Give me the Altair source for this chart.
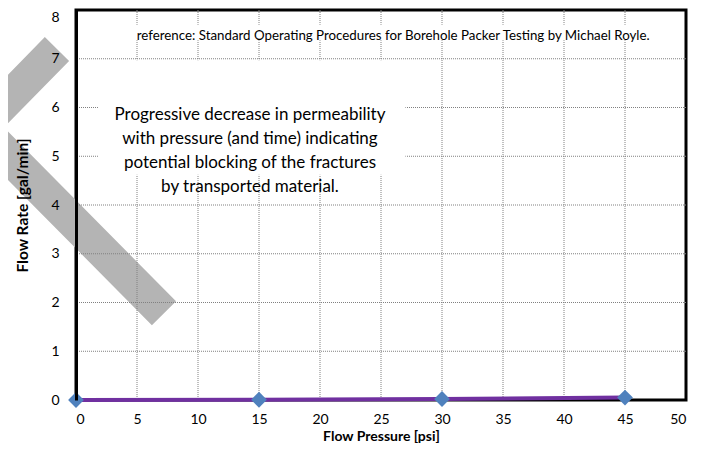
import altair as alt
import pandas as pd

# data series
pressure = [0, 15, 30, 45]
flow_rate = [0.0, 0.005, 0.02, 0.05]

x_ticks = [0, 5, 10, 15, 20, 25, 30, 35, 40, 45, 50]
y_ticks = [0, 1, 2, 3, 4, 5, 6, 7, 8]
grid_x = [5, 10, 15, 20, 25, 30, 35, 40, 45]
grid_y = [1, 2, 3, 4, 5, 6, 7]

# decorative "<" chevron (in data units)
chevron_x = [-1.56, -7.87, 7.21]
chevron_y = [7.2, 5.59, 1.78]

ref_text = "reference: Standard Operating Procedures for Borehole Packer Testing by Michael Royle."
main_text = [
    "Progressive decrease in permeability",
    "with pressure (and time) indicating",
    "potential blocking of the fractures",
    "by transported material.",
]

FONT = "Lato"

df = pd.DataFrame({"x": pressure, "y": flow_rate})
chev = pd.DataFrame({"x": chevron_x, "y": chevron_y, "o": list(range(len(chevron_x)))})
gx = pd.DataFrame({"x": grid_x})
gy = pd.DataFrame({"y": grid_y})

xs = alt.Scale(domain=[0, 50], nice=False, zero=False)
ys = alt.Scale(domain=[0, 8], nice=False, zero=False)

x_axis = alt.Axis(values=x_ticks, title="Flow Pressure [psi]", grid=False, ticks=False, domain=False,
                  labelPadding=12, titlePadding=3, titleFontSize=14)
y_axis = alt.Axis(values=y_ticks, title="Flow Rate [gal/min]", grid=False, ticks=False, domain=True,
                  domainColor="black", domainWidth=3, labelPadding=17, titlePadding=20, zindex=1,
                  labelOffset=alt.expr("datum.value == 8 ? 7 : 0"))

X = lambda f: alt.X(f, scale=xs, axis=x_axis)
Y = lambda f: alt.Y(f, scale=ys, axis=y_axis)

chevron = alt.Chart(chev).mark_line(
    color="#b4b4b4", strokeWidth=34, strokeCap="butt", strokeJoin="miter", clip=False
).encode(x=X("x:Q"), y=Y("y:Q"), order="o:O")

grid_v = alt.Chart(gx).mark_rule(color="#808080", strokeWidth=1, strokeDash=[1, 1]).encode(x=X("x:Q"))
grid_h = alt.Chart(gy).mark_rule(color="#808080", strokeWidth=1, strokeDash=[1, 1]).encode(y=Y("y:Q"))

base = alt.Chart(pd.DataFrame({"a": [0]}))

ref_box = base.mark_rect(color="white").encode(
    x=alt.datum(4.0, scale=xs, axis=x_axis), x2=alt.datum(46.5),
    y=alt.datum(7.38, scale=ys, axis=y_axis), y2=alt.datum(7.7),
)
main_box = base.mark_rect(color="white").encode(
    x=alt.datum(1.8, scale=xs, axis=x_axis), x2=alt.datum(27.0),
    y=alt.datum(4.62, scale=ys, axis=y_axis), y2=alt.datum(6.97),
)

ref_label = base.mark_text(font=FONT, fontSize=13.3, color="black", align="center", baseline="middle").encode(
    x=alt.datum(26.0, scale=xs, axis=x_axis), y=alt.datum(7.47, scale=ys, axis=y_axis), text=alt.value(ref_text)
)
main_label = base.mark_text(font=FONT, fontSize=17, lineHeight=24, color="black", align="center", baseline="middle").encode(
    x=alt.datum(14.26, scale=xs, axis=x_axis), y=alt.datum(5.85, scale=ys, axis=y_axis), text=alt.value(main_text)
)

line = alt.Chart(df).mark_line(color="#7030a0", strokeWidth=4, clip=False).encode(x=X("x:Q"), y=Y("y:Q"))
points = alt.Chart(df).mark_point(shape="diamond", filled=True, color="#4f81bd", size=250, opacity=1, clip=False).encode(
    x=X("x:Q"), y=Y("y:Q")
)

chart = alt.layer(
    chevron, grid_v, grid_h, ref_box, main_box, ref_label, main_label, line, points
).properties(
    width=610, height=390,
    autosize=alt.AutoSizeParams(type="none"),
    padding={"left": 68, "top": 2, "right": 12, "bottom": 43},
).configure_view(
    stroke="black", strokeWidth=3
).configure_axis(
    labelFont=FONT, labelFontSize=14, labelColor="black",
    titleFont=FONT, titleFontSize=15.5, titleFontWeight="bold", titleColor="black",
)

chart.save("out.html", embed_options={"renderer": "svg", "actions": False})
